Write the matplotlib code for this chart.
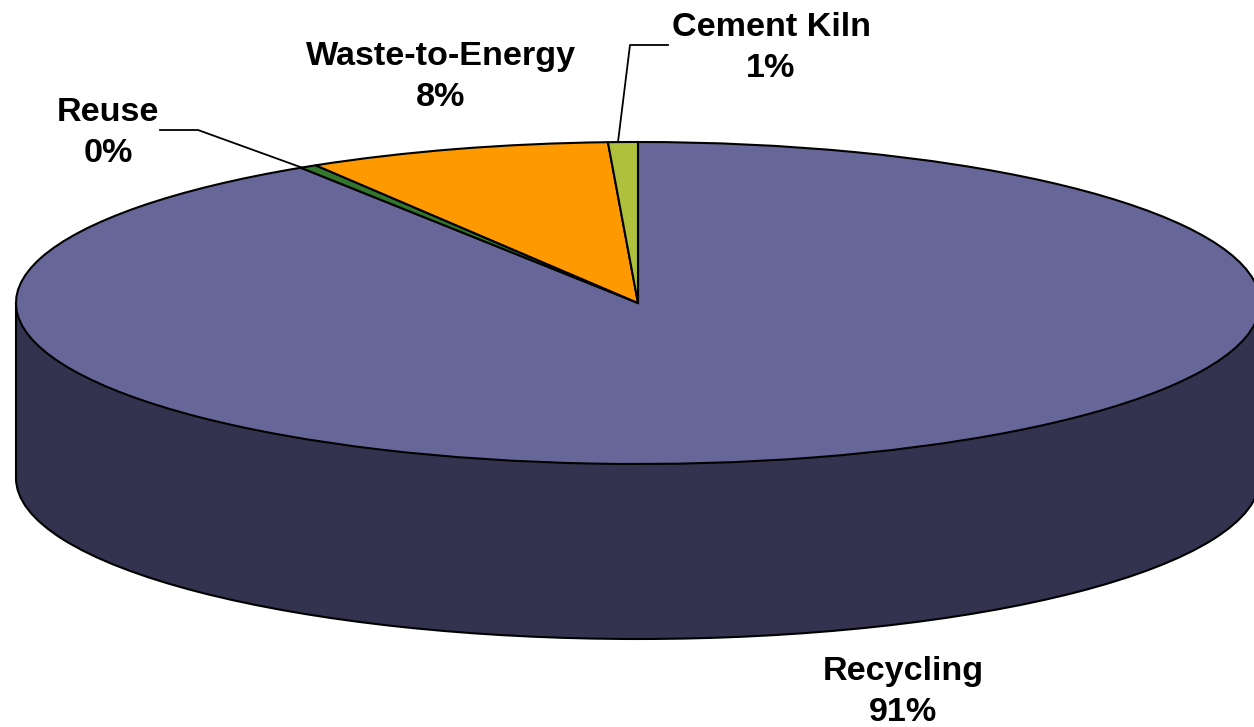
import matplotlib
matplotlib.use('Agg')
import matplotlib.pyplot as plt
from matplotlib.patches import Rectangle

names = ['Recycling', 'Reuse', 'Waste-to-Energy', 'Cement Kiln']
shares = [90.88, 0.45, 7.90, 0.77]
pct_labels = ['91%', '0%', '8%', '1%']
colors = ['#666699', '#33762E', '#FF9900', '#AFC03C']

# ellipse of the pie top, in pixels of the original picture
W, H = 1254, 727
CX, CY, RX, RY = 638, 303, 622, 161
DEPTH = 175 / RY


def px(x, y):
    return (x - CX) / RX, (CY - y) / RY


plt.rcParams['font.family'] = ['Liberation Sans', 'DejaVu Sans']
fig = plt.figure(figsize=(W / 100, H / 100), dpi=100)
ax = fig.add_axes([0, 0, 1, 1])

# side wall: dark pie moved down, then a band up to the top pie
ax.pie([sum(shares)], colors=['#33334F'], center=(0, -DEPTH), radius=1,
       wedgeprops={'edgecolor': 'black', 'linewidth': 1.5, 'zorder': 1})
ax.add_patch(Rectangle((-1, -DEPTH), 2, DEPTH, facecolor='#33334F', edgecolor='none', zorder=2))
ax.plot([-1, -1], [0, -DEPTH], color='black', lw=1.5, zorder=2)
ax.plot([1, 1], [0, -DEPTH], color='black', lw=1.5, zorder=2)

ax.pie(shares, colors=colors, startangle=90, counterclock=False, radius=1,
       wedgeprops={'edgecolor': 'black', 'linewidth': 1.5, 'zorder': 3})

ax.set_aspect('auto')
ax.set_xlim(px(0, 0)[0], px(W, 0)[0])
ax.set_ylim(px(0, H)[1], px(0, 0)[1])
ax.axis('off')

# leader lines
reuse_line = [px(160, 130), px(198, 130), px(303, 168)]
cement_line = [px(668, 45), px(630, 45), px(618, 142)]
for line in (reuse_line, cement_line):
    ax.plot([p[0] for p in line], [p[1] for p in line], color='black', lw=1.3, zorder=4)

label_pos = {'Recycling': (903, 692), 'Reuse': (108, 133),
             'Waste-to-Energy': (441, 77), 'Cement Kiln': (771, 48)}
for name, pct in zip(names, pct_labels):
    x, y = px(*label_pos[name])
    ax.text(x, y, name + '\n' + pct, ha='center', va='center', fontsize=24.6,
            fontweight='bold', color='black', linespacing=1.44, zorder=5)

fig.savefig('out.png', dpi=100, facecolor='white')
